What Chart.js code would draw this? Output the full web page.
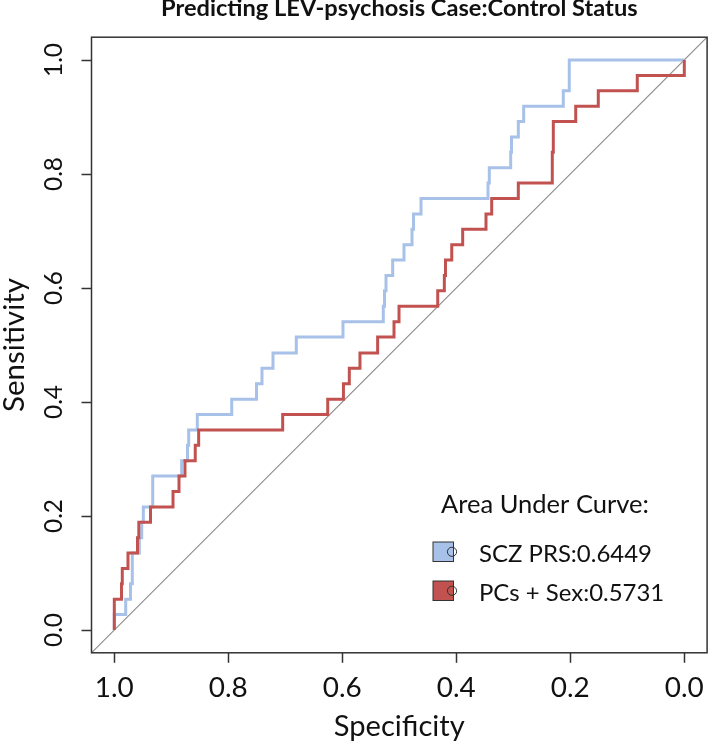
<!DOCTYPE html>
<html>
<head>
<meta charset="utf-8">
<script src="https://cdn.jsdelivr.net/npm/chart.js@4"></script>
<style>
  html, body { margin: 0; padding: 0; background: #fff; }
  #wrap { width: 709px; height: 746px; }
</style>
</head>
<body>
<div id="wrap"><canvas id="roc" width="709" height="746"></canvas></div>
<script>
// ROC curve corner points (specificity, sensitivity)
const scoreSpec = [1.0, 1.0, 0.98, 0.98, 0.9716, 0.9716, 0.9684, 0.9684, 0.9561, 0.9561, 0.9519, 0.9519,
  0.9491, 0.9491, 0.9326, 0.9326, 0.8818, 0.8818, 0.8716, 0.8716, 0.8695, 0.8695, 0.8544, 0.8544,
  0.794, 0.794, 0.7505, 0.7505, 0.7409, 0.7409, 0.7216, 0.7216, 0.6807, 0.6807, 0.5988, 0.5988,
  0.5281, 0.5281, 0.526, 0.526, 0.5233, 0.5233, 0.5116, 0.5116, 0.4918, 0.4918, 0.4777, 0.4777,
  0.4751, 0.4751, 0.4619, 0.4619, 0.3444, 0.3444, 0.3421, 0.3421, 0.3046, 0.3046, 0.3032, 0.3032,
  0.2912, 0.2912, 0.2818, 0.2818, 0.2123, 0.2123, 0.2018, 0.2018, 0.0];
const scoreSens = [0, 0.027, 0.027, 0.054, 0.054, 0.081, 0.081, 0.135, 0.135, 0.162, 0.162, 0.189,
  0.189, 0.216, 0.216, 0.270, 0.270, 0.297, 0.297, 0.324, 0.324, 0.351, 0.351, 0.378,
  0.378, 0.405, 0.405, 0.432, 0.432, 0.459, 0.459, 0.486, 0.486, 0.514, 0.514, 0.541,
  0.541, 0.568, 0.568, 0.595, 0.595, 0.622, 0.622, 0.649, 0.649, 0.676, 0.676, 0.703,
  0.703, 0.730, 0.730, 0.757, 0.757, 0.784, 0.784, 0.811, 0.811, 0.838, 0.838, 0.865,
  0.865, 0.892, 0.892, 0.919, 0.919, 0.946, 0.946, 1.0, 1.0];

const covarSpec = [1.0, 1.0, 0.9874, 0.9874, 0.986, 0.986, 0.976, 0.976, 0.9593, 0.9593, 0.957, 0.957,
  0.9365, 0.9365, 0.897, 0.897, 0.8865, 0.8865, 0.876, 0.876, 0.858, 0.858, 0.852, 0.852,
  0.7046, 0.7046, 0.6256, 0.6256, 0.598, 0.598, 0.5877, 0.5877, 0.569, 0.569, 0.538, 0.538,
  0.5093, 0.5093, 0.5005, 0.5005, 0.4326, 0.4326, 0.421, 0.421, 0.419, 0.419, 0.408, 0.408,
  0.3888, 0.3888, 0.3479, 0.3479, 0.3379, 0.3379, 0.2912, 0.2912, 0.2316, 0.2316, 0.2298, 0.2298,
  0.1905, 0.1905, 0.1509, 0.1509, 0.0825, 0.0825, 0.0, 0.0];
const covarSens = [0, 0.054, 0.054, 0.081, 0.081, 0.108, 0.108, 0.135, 0.135, 0.162, 0.162, 0.189,
  0.189, 0.216, 0.216, 0.243, 0.243, 0.270, 0.270, 0.297, 0.297, 0.324, 0.324, 0.351,
  0.351, 0.378, 0.378, 0.405, 0.405, 0.432, 0.432, 0.459, 0.459, 0.486, 0.486, 0.514,
  0.514, 0.541, 0.541, 0.568, 0.568, 0.595, 0.595, 0.622, 0.622, 0.649, 0.649, 0.676,
  0.676, 0.703, 0.703, 0.730, 0.730, 0.757, 0.757, 0.784, 0.784, 0.838, 0.838, 0.892,
  0.892, 0.919, 0.919, 0.946, 0.946, 0.973, 0.973, 1.0];

// chance line, corner to corner of the plot box
const chanceSpec = [1.04, -0.04];
const chanceSens = [-0.04, 1.04];

const seriesNames = ['SCZ PRS', 'PCs + Sex'];
const aucValues = [0.6449, 0.5731];
const tickValues = [0, 0.2, 0.4, 0.6, 0.8, 1.0];

const titleText = 'Predicting LEV-psychosis Case:Control Status';
const blue = '#a7c1e9';
const red = '#c1524f';
const fam = "Lato, 'Open Sans', sans-serif";

// pick a font size so a string comes out at a given width
const mctx = document.createElement('canvas').getContext('2d');
function fitPx(text, weight, width) {
  mctx.font = weight + ' 100px ' + fam;
  return 100 * width / mctx.measureText(text).width;
}

const titlePx = fitPx(titleText, 'bold', 477);
const xTickPx = fitPx('0.8', 'normal', 39);
const yTickPx = fitPx('0.6', 'normal', 34);
const xTitlePx = fitPx('Specificity', 'normal', 131);
const yTitlePx = fitPx('Sensitivity', 'normal', 134);
const legHeadPx = fitPx('Area Under Curve:', 'normal', 208);
const legItemPx = fitPx('SCZ PRS:0.6449', 'normal', 173);

function pts(xs, ys) {
  return xs.map((x, i) => ({x: x, y: ys[i]}));
}

const extras = {
  id: 'extras',
  afterDraw(chart) {
    const {ctx, chartArea: a} = chart;
    ctx.save();
    // plot box
    ctx.strokeStyle = '#333';
    ctx.lineWidth = 1.5;
    ctx.strokeRect(a.left, a.top, a.right - a.left, a.bottom - a.top);

    // title
    ctx.fillStyle = '#111';
    ctx.font = 'bold ' + titlePx + 'px ' + fam;
    ctx.textAlign = 'center';
    ctx.textBaseline = 'alphabetic';
    ctx.fillText(titleText, (a.left + a.right) / 2, 16);

    // legend
    ctx.textAlign = 'left';
    ctx.font = legHeadPx + 'px ' + fam;
    ctx.fillText('Area Under Curve:', 441, 513);
    const cols = [blue, red];
    const rows = [542, 581];
    ctx.font = legItemPx + 'px ' + fam;
    seriesNames.forEach((name, i) => {
      const y = rows[i];
      ctx.fillStyle = cols[i];
      ctx.fillRect(433, y, 20.5, 19.5);
      ctx.strokeStyle = '#333';
      ctx.lineWidth = 1;
      ctx.strokeRect(433, y, 20.5, 19.5);
      ctx.beginPath();
      ctx.arc(452, y + 9.8, 4.6, 0, Math.PI * 2);
      ctx.stroke();
      ctx.fillStyle = '#111';
      ctx.fillText(name + ':' + aucValues[i].toFixed(4), 479, y + 19.5);
    });
    ctx.restore();
  }
};

new Chart(document.getElementById('roc'), {
  type: 'scatter',
  data: {
    datasets: [
      {label: seriesNames[1], data: pts(covarSpec, covarSens), showLine: true, borderColor: red,
       borderWidth: 3, pointRadius: 0, tension: 0, fill: false},
      {label: seriesNames[0], data: pts(scoreSpec, scoreSens), showLine: true, borderColor: blue,
       borderWidth: 3, pointRadius: 0, tension: 0, fill: false},
      {label: 'chance', data: pts(chanceSpec, chanceSens), showLine: true, borderColor: '#8c8c8c',
       borderWidth: 1.2, pointRadius: 0, tension: 0, fill: false}
    ]
  },
  options: {
    responsive: false,
    animation: false,
    devicePixelRatio: 1,
    layout: {padding: {top: 37.2, right: 1.9, bottom: 0, left: 0}},
    plugins: {legend: {display: false}, tooltip: {enabled: false}, title: {display: false}},
    scales: {
      x: {
        type: 'linear', reverse: true, min: -0.04, max: 1.04,
        afterBuildTicks: s => { s.ticks = tickValues.map(v => ({value: v})); },
        afterFit: s => { s.height = 93.2; },
        grid: {drawOnChartArea: false, drawTicks: true, tickLength: 10, tickColor: '#333', tickWidth: 1.5},
        border: {display: false},
        ticks: {
          autoSkip: false, maxRotation: 0, minRotation: 0, color: '#111',
          font: {family: fam, size: xTickPx, lineHeight: 1},
          padding: 25.2 - xTickPx / 2,
          callback: v => v.toFixed(1)
        },
        title: {display: true, text: 'Specificity', color: '#111', padding: 0,
                font: {family: fam, size: xTitlePx, lineHeight: '38px'}}
      },
      y: {
        type: 'linear', min: -0.04, max: 1.04,
        afterBuildTicks: s => { s.ticks = tickValues.map(v => ({value: v})); },
        afterFit: s => { s.width = 91.5; },
        grid: {drawOnChartArea: false, drawTicks: true, tickLength: 10, tickColor: '#333', tickWidth: 1.5},
        border: {display: false},
        ticks: {
          autoSkip: false, minRotation: 90, maxRotation: 90, crossAlign: 'center', color: '#111',
          font: {family: fam, size: yTickPx, lineHeight: 1},
          padding: 10.5,
          callback: v => v.toFixed(1)
        },
        title: {display: true, text: 'Sensitivity', color: '#111', padding: 0,
                font: {family: fam, size: yTitlePx, lineHeight: '28px'}}
      }
    }
  },
  plugins: [extras]
});
</script>
</body>
</html>
